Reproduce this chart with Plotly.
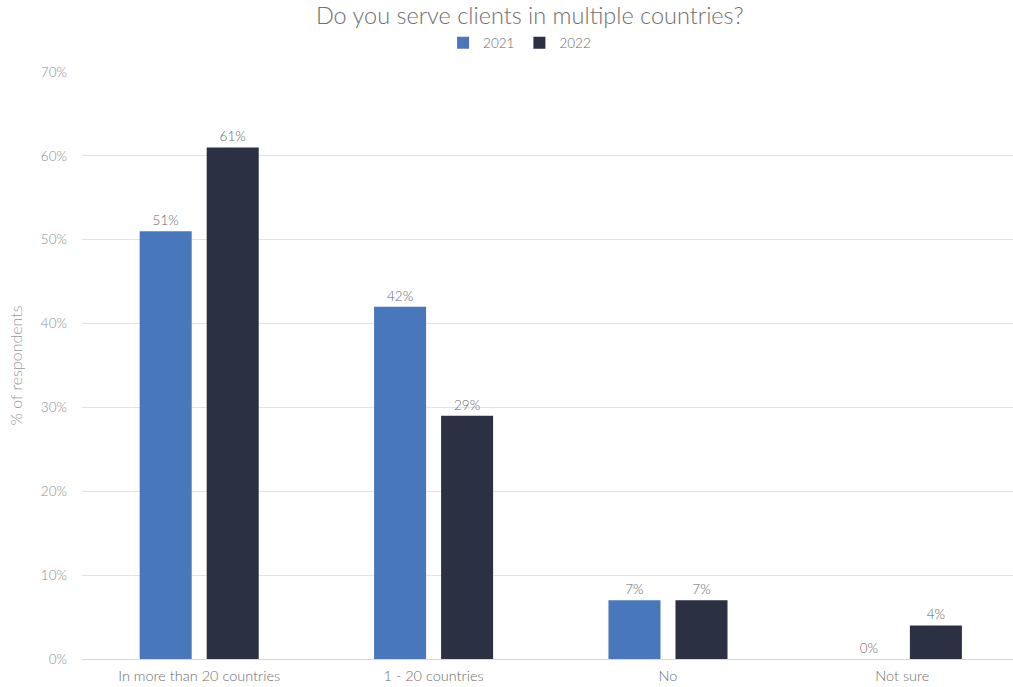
import plotly.graph_objects as go

categories = ["In more than 20 countries", "1 - 20 countries", "No", "Not sure"]
share_2021 = [0.51, 0.42, 0.07, 0.00]
share_2022 = [0.61, 0.29, 0.07, 0.04]
y_ticks = [0, 0.1, 0.2, 0.3, 0.4, 0.5, 0.6, 0.7]
y_tick_labels = ["0%", "10%", "20%", "30%", "40%", "50%", "60%", "70%"]

FONT = "Lato, 'Open Sans', sans-serif"
LABEL_FONT = dict(family=FONT, size=13.5, color="#666666", weight=300)

fig = go.Figure()
fig.add_trace(go.Bar(
    name="2021", x=categories, y=share_2021,
    marker=dict(color="#4878bb", line=dict(width=0)),
    texttemplate="%{y:.0%}", textposition="outside", cliponaxis=False,
    textfont=LABEL_FONT,
))
fig.add_trace(go.Bar(
    name="2022", x=categories, y=share_2022,
    marker=dict(color="#2b3043", line=dict(width=0)),
    texttemplate="%{y:.0%}", textposition="outside", cliponaxis=False,
    textfont=LABEL_FONT,
))

fig.update_layout(
    width=1013, height=687,
    margin=dict(l=82, r=0, t=72, b=28),
    paper_bgcolor="white", plot_bgcolor="white",
    barmode="group", bargap=0.428, bargroupgap=0.224,
    font=dict(family=FONT, color="#888888", weight=300),
    title=dict(text="Do you serve clients in multiple countries?",
               x=0.523, xanchor="center", y=0.977, yanchor="middle",
               font=dict(family=FONT, size=23.5, color="#707070", weight=300)),
    legend=dict(orientation="h", x=0.47, xanchor="center", y=1.0494, yanchor="middle",
                font=dict(family=FONT, size=13.5, color="#6a6a6a", weight=300),
                itemwidth=30, traceorder="normal"),
    showlegend=True,
)
fig.update_xaxes(
    type="category", range=[-0.5, 3.472], showgrid=False,
    showline=True, linecolor="#d9d9d9", linewidth=1,
    ticks="", ticklabelstandoff=4,
    tickfont=dict(family=FONT, size=14.5, color="#6e6e6e", weight=300),
)
fig.update_yaxes(
    range=[0, 0.7], tickvals=y_ticks, ticktext=y_tick_labels,
    showgrid=True, gridcolor="#e3e3e3", gridwidth=1, zeroline=False,
    ticks="", ticklen=0, ticklabelstandoff=14,
    tickfont=dict(family=FONT, size=13.5, color="#8c8c8c", weight=300),
    title=dict(text="% of respondents", standoff=14,
               font=dict(family=FONT, size=16, color="#9a9a9a", weight=300)),
)

fig.write_html("out.html")
